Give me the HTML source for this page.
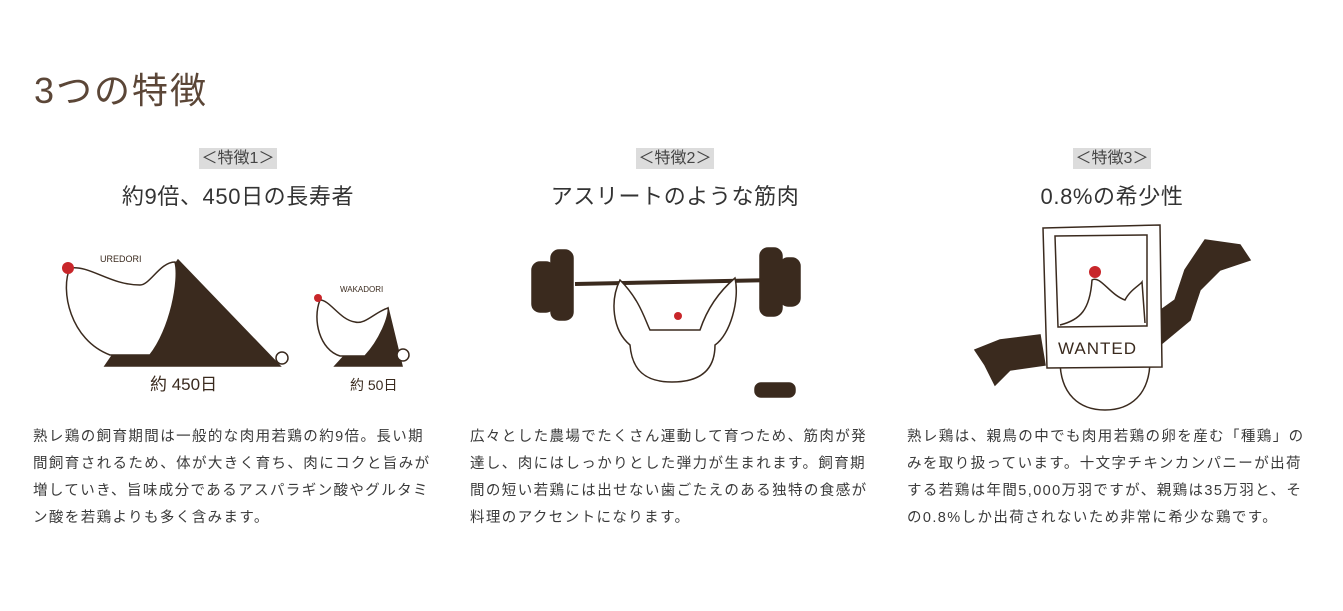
<!DOCTYPE html>
<html><head><meta charset="utf-8"><style>
body{margin:0;width:1343px;height:611px;background:#fff;font-family:"Liberation Sans","Noto Sans CJK JP",sans-serif;position:relative;overflow:hidden;color:#333}
h1{position:absolute;left:34px;top:62px;margin:0;font-weight:normal;font-size:36px;color:#5b4637;letter-spacing:2px}
.col{position:absolute;top:0;width:410px}
.tag{position:absolute;top:144px;left:0;width:100%;text-align:center}
.tag span{background:#dcdcdc;font-size:16px;padding:2px 3px;color:#444}
.hd{position:absolute;top:179px;width:100%;text-align:center;font-size:22px;letter-spacing:0.6px;color:#333}
.tx{position:absolute;top:424px;left:0;width:400px;font-size:14.5px;letter-spacing:1.4px;line-height:27px;color:#3a3a3a}
svg{position:absolute}
</style></head><body>
<h1>3つの特徴</h1>

<div class="col" style="left:33px">
<div class="tag"><span>＜特徴1＞</span></div>
<div class="hd">約9倍、450日の長寿者</div>
<div class="tx">熟レ鶏の飼育期間は一般的な肉用若鶏の約9倍。長い期<br>間飼育されるため、体が大きく育ち、肉にコクと旨みが<br>増していき、旨味成分であるアスパラギン酸やグルタミ<br>ン酸を若鶏よりも多く含みます。</div>
</div>
<div class="col" style="left:470px">
<div class="tag"><span>＜特徴2＞</span></div>
<div class="hd">アスリートのような筋肉</div>
<div class="tx">広々とした農場でたくさん運動して育つため、筋肉が発<br>達し、肉にはしっかりとした弾力が生まれます。飼育期<br>間の短い若鶏には出せない歯ごたえのある独特の食感が<br>料理のアクセントになります。</div>
</div>
<div class="col" style="left:907px">
<div class="tag"><span>＜特徴3＞</span></div>
<div class="hd">0.8%の希少性</div>
<div class="tx">熟レ鶏は、親鳥の中でも肉用若鶏の卵を産む「種鶏」の<br>みを取り扱っています。十文字チキンカンパニーが出荷<br>する若鶏は年間5,000万羽ですが、親鶏は35万羽と、そ<br>の0.8%しか出荷されないため非常に希少な鶏です。</div>
</div>

<svg width="1343" height="611" style="left:0;top:0">
<g stroke="#3a2a1e" stroke-width="1.5" fill="#fff">
<polygon points="178,260 280,366 105,366" fill="#3a2a1e"/>
<path d="M70,268 C60,290 70,340 110,355 L150,355 C170,330 180,280 175,262 C160,262 150,285 140,285 C110,285 90,265 70,268Z"/>
<circle cx="68" cy="268" r="6" fill="#c8262a" stroke="none"/>
<text x="100" y="262" font-size="9" fill="#3a2a1e" stroke="none" font-family="Liberation Sans">UREDORI</text>
<polygon points="388,308 402,366 335,366" fill="#3a2a1e"/>
<path d="M320,300 C312,320 320,350 340,356 L365,356 C380,340 390,315 388,308 C375,312 365,325 355,322 C340,320 330,300 320,300Z"/>
<circle cx="318" cy="298" r="4" fill="#c8262a" stroke="none"/>
<text x="340" y="292" font-size="8" fill="#3a2a1e" stroke="none" font-family="Liberation Sans">WAKADORI</text>
<circle cx="282" cy="358" r="6"/><circle cx="403" cy="355" r="6"/>
<text x="150" y="390" font-size="17" fill="#3a2a1e" stroke="none" font-family="Liberation Sans">約 450日</text>
<text x="350" y="390" font-size="14" fill="#3a2a1e" stroke="none" font-family="Liberation Sans">約 50日</text>
<line x1="575" y1="284" x2="775" y2="280" stroke-width="4"/>
<rect x="532" y="262" width="22" height="50" rx="8" fill="#3a2a1e"/>
<rect x="551" y="250" width="22" height="70" rx="8" fill="#3a2a1e"/>
<rect x="760" y="248" width="22" height="68" rx="8" fill="#3a2a1e"/>
<rect x="780" y="258" width="20" height="48" rx="8" fill="#3a2a1e"/>
<path d="M620,280 C640,300 645,320 650,330 L700,330 C705,315 715,295 735,278 C740,300 730,335 715,345 C715,370 700,382 672,382 C645,382 632,370 630,345 C612,330 610,300 620,280Z"/>
<circle cx="678" cy="316" r="4" fill="#c8262a" stroke="none"/>
<rect x="755" y="383" width="40" height="14" rx="6" fill="#3a2a1e"/>
<path d="M1205,240 L1240,245 L1250,260 L1220,270 L1200,290 L1190,320 L1160,345 L1135,355 L1140,325 L1175,300 L1185,270 Z" fill="#3a2a1e"/>
<path d="M975,350 L1000,340 L1040,335 L1045,365 L1010,370 L995,385 L985,365Z" fill="#3a2a1e"/>
<path d="M1060,360 C1060,395 1080,410 1105,410 C1130,410 1150,395 1150,360Z"/>
<path d="M1043,228 L1160,225 L1162,367 L1047,368Z"/>
<path d="M1055,236 L1147,235 L1147,326 L1058,327Z"/>
<path d="M1060,325 C1080,320 1090,310 1092,280 C1100,275 1110,295 1125,300 C1130,290 1140,285 1142,282 L1145,323"/>
<circle cx="1095" cy="272" r="6" fill="#c8262a" stroke="none"/>
<text x="1058" y="354" font-size="17" fill="#3a2a1e" stroke="none" font-family="Liberation Sans" letter-spacing="1">WANTED</text>
</g>
</svg>
</body></html>
